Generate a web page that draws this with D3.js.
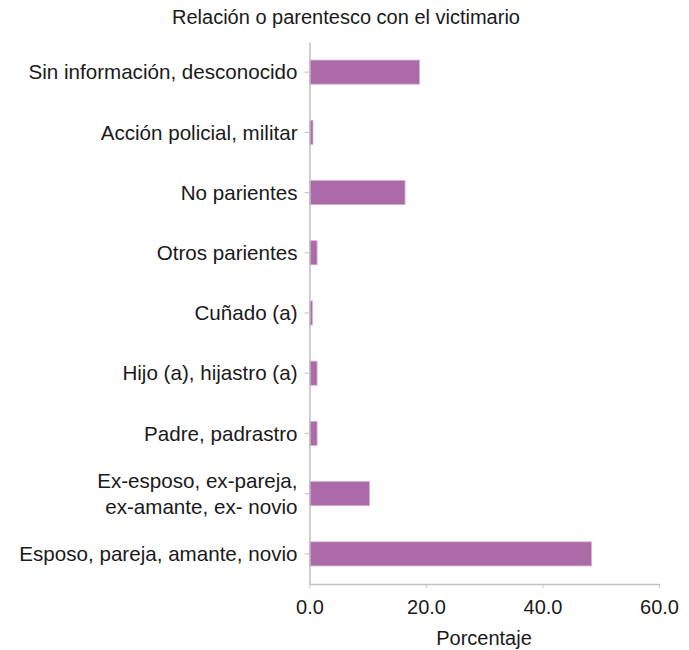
<!DOCTYPE html>
<html><head><meta charset="utf-8">
<script src="https://cdn.jsdelivr.net/npm/d3@7"></script>
<style>body{margin:0;background:#fff;} text{font-family:"Liberation Sans",Arial,sans-serif;fill:#1a1a1a;}</style>
</head><body>
<svg id="c" width="689" height="650"></svg>
<script>
const categories = [
  "Sin información, desconocido",
  "Acción policial, militar",
  "No parientes",
  "Otros parientes",
  "Cuñado (a)",
  "Hijo (a), hijastro (a)",
  "Padre, padrastro",
  "Ex-esposo, ex-pareja,\nex-amante, ex- novio",
  "Esposo, pareja, amante, novio"
];
const values = [18.9, 0.6, 16.4, 1.3, 0.5, 1.3, 1.3, 10.3, 48.4];
const xTicks = [0, 20, 40, 60];
const title = "Relación o parentesco con el victimario";
const xTitle = "Porcentaje";

(function () {
const svg = d3.select("#c");
const mL = 309.5, mR = 659, mT = 42, mB = 584;
const x = d3.scaleLinear().domain([0, 60]).range([mL, mR]);
const y = d3.scaleBand().domain(categories).range([mT, mB]).paddingInner(0.6).paddingOuter(0.3);

// bars
svg.append("g").selectAll("rect").data(values).join("rect")
  .attr("x", x(0))
  .attr("y", (d, i) => y(categories[i]))
  .attr("width", d => x(d) - x(0))
  .attr("height", y.bandwidth())
  .attr("fill", "#ab6aa8")
  .attr("stroke", "#d6aed4")
  .attr("stroke-width", 0.8);

// x axis
const xa = svg.append("g").attr("transform", `translate(0,${mB})`)
  .call(d3.axisBottom(x).tickValues(xTicks).tickFormat(d3.format(".1f")).tickSize(4).tickSizeOuter(0).tickPadding(12));
xa.select(".domain").attr("stroke", "#c0c0c0").attr("stroke-width", 1.5);
xa.selectAll(".tick line").attr("stroke", "#c8c8c8").attr("stroke-width", 1.2);
xa.selectAll(".tick text").style("font-size", "20px").attr("fill", "#1a1a1a");

// y axis
const ya = svg.append("g").attr("transform", `translate(${mL},0)`)
  .call(d3.axisLeft(y).tickSize(5).tickSizeOuter(0).tickPadding(8).tickFormat(""));
ya.select(".domain").attr("stroke", "#c0c0c0").attr("stroke-width", 1.5);
ya.selectAll(".tick line").attr("stroke", "#c8c8c8").attr("stroke-width", 1.2);
ya.selectAll(".tick").each(function(d) {
  const lines = d.split("\n");
  const t = d3.select(this).append("text")
    .attr("x", -12).attr("text-anchor", "end")
    .style("font-size", "20.6px").attr("fill", "#1a1a1a");
  const lh = 26;
  lines.forEach((ln, k) => {
    t.append("tspan").attr("x", -12)
      .attr("y", (k - (lines.length - 1) / 2) * lh)
      .attr("dy", "0.35em").text(ln);
  });
});

// titles
svg.append("text").attr("x", 346).attr("y", 24).attr("text-anchor", "middle")
  .style("font-size", "20px").text(title);
svg.append("text").attr("x", 484).attr("y", 645).attr("text-anchor", "middle")
  .style("font-size", "20px").text(xTitle);
})();
</script>
</body></html>
